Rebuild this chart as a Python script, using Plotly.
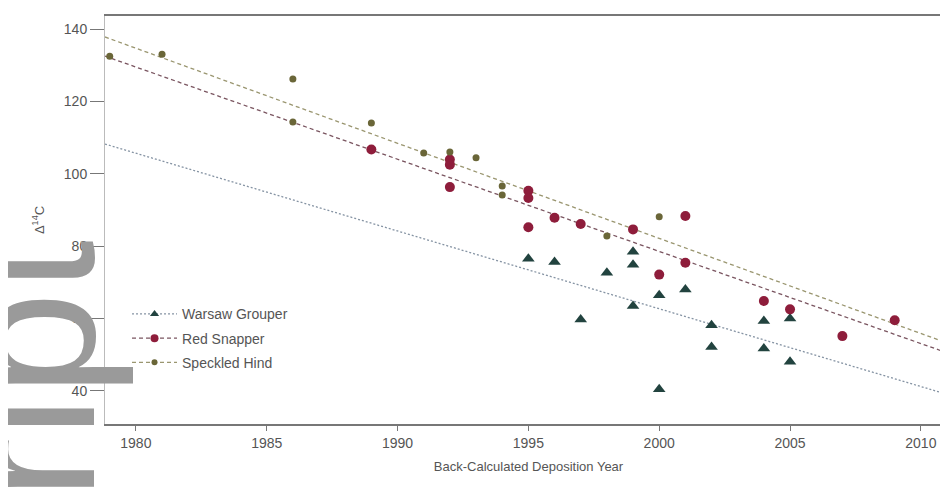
import plotly.graph_objects as go

# ---- data ----
warsaw_year = [1995, 1996, 1997, 1998, 1999, 1999, 1999, 2000, 2000, 2001, 2002, 2002, 2004, 2004, 2005, 2005]
warsaw_d14c = [76.5, 75.6, 59.7, 72.6, 78.4, 74.8, 63.4, 66.4, 40.4, 68.0, 58.1, 52.1, 59.3, 51.7, 60.0, 48.0]

snapper_year = [1989, 1992, 1992, 1992, 1995, 1995, 1995, 1996, 1997, 1999, 2000, 2001, 2001, 2004, 2005, 2007, 2009]
snapper_d14c = [106.7, 103.9, 102.5, 96.3, 95.3, 93.3, 85.2, 87.8, 86.1, 84.6, 72.1, 88.3, 75.4, 64.8, 62.5, 55.1, 59.5]

hind_year = [1979, 1981, 1986, 1986, 1989, 1991, 1992, 1993, 1994, 1994, 1998, 2000]
hind_d14c = [132.5, 133.0, 126.2, 114.3, 114.0, 105.7, 106.0, 104.4, 96.6, 94.1, 82.8, 88.1]

# regression lines: end points
fit_years = [1978.82, 2011.19]
warsaw_fit = [108.2, 38.6]
snapper_fit = [132.5, 50.0]
hind_fit = [137.8, 52.7]

x_ticks = [1980, 1985, 1990, 1995, 2000, 2005, 2010]
y_ticks = [40, 60, 80, 100, 120, 140]

names = ["Warsaw Grouper", "Red Snapper", "Speckled Hind"]

# ---- styles ----
c_w, c_r, c_h = "#22433f", "#8e1d3b", "#6a6638"
l_w, l_r, l_h = "#8593a3", "#7a5560", "#9a9670"

fig = go.Figure()

# watermark text (cut off at the left edge)
fig.add_annotation(text="script", xref="paper", yref="paper", x=-0.215, y=0.456,
                   xanchor="left", yanchor="top",
                   showarrow=False, textangle=-90,
                   font=dict(family="Liberation Sans, Arial, sans-serif", size=187, color="#9a9a9a"))

# fitted lines
fig.add_trace(go.Scatter(x=fit_years, y=warsaw_fit, mode="lines", showlegend=False,
                         line=dict(color=l_w, width=1.3, dash="2px,2px"), hoverinfo="skip"))
fig.add_trace(go.Scatter(x=fit_years, y=snapper_fit, mode="lines", showlegend=False,
                         line=dict(color=l_r, width=1.3, dash="4px,3px"), hoverinfo="skip"))
fig.add_trace(go.Scatter(x=fit_years, y=hind_fit, mode="lines", showlegend=False,
                         line=dict(color=l_h, width=1.3, dash="4px,3px"), hoverinfo="skip"))

# points
fig.add_trace(go.Scatter(x=warsaw_year, y=warsaw_d14c, mode="markers", showlegend=False,
                         marker=dict(symbol="triangle-up", size=11, color=c_w)))
fig.add_trace(go.Scatter(x=snapper_year, y=snapper_d14c, mode="markers", showlegend=False,
                         marker=dict(symbol="circle", size=10, color=c_r)))
fig.add_trace(go.Scatter(x=hind_year, y=hind_d14c, mode="markers", showlegend=False,
                         marker=dict(symbol="circle", size=7, color=c_h)))

# legend entries (line + marker)
fig.add_trace(go.Scatter(x=[None], y=[None], mode="lines+markers", name=names[0], legendgroup="w",
                         line=dict(color=l_w, width=1.3, dash="2px,2px"),
                         marker=dict(symbol="triangle-up", size=8, color=c_w)))
fig.add_trace(go.Scatter(x=[None], y=[None], mode="lines+markers", name=names[1], legendgroup="r",
                         line=dict(color=l_r, width=1.3, dash="4px,3px"),
                         marker=dict(symbol="circle", size=8, color=c_r)))
fig.add_trace(go.Scatter(x=[None], y=[None], mode="lines+markers", name=names[2], legendgroup="h",
                         line=dict(color=l_h, width=1.3, dash="4px,3px"),
                         marker=dict(symbol="circle", size=6, color=c_h)))

font_family = "Liberation Sans, Arial, sans-serif"

fig.update_layout(
    width=948, height=497,
    margin=dict(l=97, r=4, t=8, b=81),
    paper_bgcolor="white", plot_bgcolor="white",
    font=dict(family=font_family, size=13, color="#555555"),
    showlegend=True,
    legend=dict(x=0.026, y=0.308, xanchor="left", yanchor="top",
                bgcolor="rgba(255,255,255,0)", font=dict(size=14, color="#555555"),
                tracegroupgap=3, itemwidth=45),
    xaxis=dict(range=[1978.82, 2011.19], tickmode="array", tickvals=x_ticks,
               ticktext=[str(v) for v in x_ticks],
               showgrid=False, zeroline=False, showline=True, linecolor="#777777",
               linewidth=2, mirror=True, ticks="outside", ticklen=5, tickcolor="#777777",
               tickfont=dict(size=14),
               title=dict(text="Back-Calculated Deposition Year", standoff=12,
                          font=dict(size=13, color="#555555"))),
    yaxis=dict(range=[30.8, 143.6], tickmode="array", tickvals=y_ticks,
               ticktext=[str(v) for v in y_ticks],
               showgrid=False, zeroline=False, showline=True, linecolor="#bbbbbb",
               linewidth=1, ticks="outside", ticklen=14, tickcolor="#777777",
               tickfont=dict(size=14),
               title=dict(text="Δ<sup>14</sup>C", standoff=16,
                          font=dict(size=13, color="#555555"))),
)

# right frame line
fig.add_shape(type="line", xref="x domain", yref="y domain", x0=1, x1=1, y0=0, y1=1,
              line=dict(color="#444444", width=2))

fig.write_html("out.html")
